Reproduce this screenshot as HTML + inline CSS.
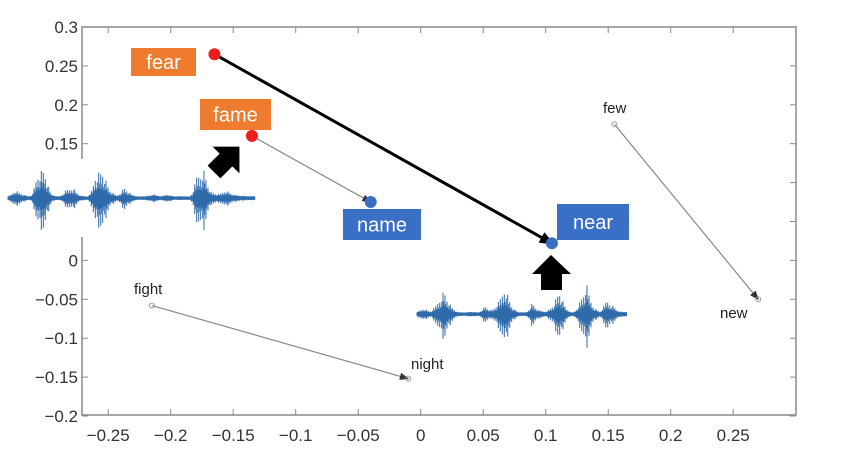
<!DOCTYPE html>
<html><head><meta charset="utf-8"><style>
html,body{margin:0;padding:0;background:#fff;}
svg{display:block;font-family:"Liberation Sans",sans-serif;}
</style></head><body>
<svg id="chart" width="851" height="459" viewBox="0 0 851 459">
<defs>
<marker id="ah" markerWidth="8" markerHeight="6" refX="7" refY="3" orient="auto"><path d="M0,0 L8,3 L0,6 z" fill="#333"/></marker>
<marker id="ahb" markerWidth="5" markerHeight="4" refX="4" refY="2" orient="auto"><path d="M0,0 L5,2 L0,4 z" fill="#000"/></marker>
</defs>
<g id="axes"></g>
<g id="marks"></g>
<g id="overlay"></g>
</svg>
<script>
const xTicks=[-0.25,-0.2,-0.15,-0.1,-0.05,0,0.05,0.1,0.15,0.2,0.25];
const yTicks=[0.3,0.25,0.2,0.15,0.1,0.05,0,-0.05,-0.1,-0.15,-0.2];
const words=["fear","fame","name","near","few","new","fight","night"];
const wx=[-0.165,-0.135,-0.04,0.105,0.155,0.27,-0.215,-0.01];
const wy=[0.265,0.16,0.075,0.022,0.175,-0.05,-0.058,-0.152];
const pairs=[[0,3],[1,2],[4,5],[6,7]];
const envL=[0.15,0.5,0.3,0.1,0.9,1,0.3,0.1,0.5,0.6,0.2,0.1,0.9,1,0.5,0.2,0.6,0.3,0.1,0.15,0.3,0.15,0.3,0.1,0.15,0.1,0.9,1,0.4,0.3,0.5,0.3,0.2,0.15];
const envR=[0.2,0.4,0.2,0.6,0.9,0.5,0.15,0.1,0.2,0.1,0.5,0.3,0.6,1,0.5,0.15,0.1,0.6,0.3,0.2,0.5,0.9,0.4,0.1,0.6,1,0.5,0.2,0.7,0.5,0.2];
const X=v=>420.7+v*1250, Y=v=>260.4-v*778;
const NS="http://www.w3.org/2000/svg";
function mk(t,a,p){const e=document.createElementNS(NS,t);for(const k in a)e.setAttribute(k,a[k]);p.appendChild(e);return e;}
const ax=document.getElementById('axes'),mg=document.getElementById('marks'),ov=document.getElementById('overlay');
const frame=mk('rect',{x:82,y:27,width:714,height:388,fill:'none',stroke:'#8a8a8a','stroke-width':1.5},ax);


xTicks.forEach(v=>{const x=X(v);
 mk('line',{x1:x,x2:x,y1:415,y2:409,stroke:'#8a8a8a'},ax);mk('line',{x1:x,x2:x,y1:27,y2:33,stroke:'#8a8a8a'},ax);
 const t=mk('text',{x:x,y:441,'text-anchor':'middle','font-size':17,fill:'#333'},ax);t.textContent=(v<0?'\u2212':'')+String(Math.abs(v));
 
 });
yTicks.forEach(v=>{const y=Y(v);
 mk('line',{x1:82,x2:88,y1:y,y2:y,stroke:'#8a8a8a'},ax);mk('line',{x1:796,x2:790,y1:y,y2:y,stroke:'#8a8a8a'},ax);
 const t=mk('text',{x:78,y:y+6,'text-anchor':'end','font-size':17,fill:'#333'},ax);t.textContent=(v<0?'\u2212':'')+Math.abs(v);
 
 });
function wave(env,x0,x1,cy,amp,name){
 const g=mk('g',{},mg);
 mk('rect',{x:x0-4,y:cy-amp-4,width:x1-x0+8,height:2*amp+8,fill:'#fff'},g);
 let d='';const n=(x1-x0)*1.5;
 for(let i=0;i<n;i++){const x=x0+i/1.5;const f=i/n*env.length;const k=Math.floor(f);
  const e=env[k]*(1-(f-k))+(env[k+1]??env[k])*(f-k);
  const s=(((i*7919)%97)/97);const a=amp*e*e*(0.25+0.75*s*s)+1.5;d+=`M${x.toFixed(1)},${(cy-a*0.85).toFixed(1)}V${(cy+a).toFixed(1)}`;}
 mk('path',{d:d,stroke:'#2f6aaa','stroke-width':1,fill:'none'},g);
 mk('line',{x1:x0,x2:x1,y1:cy,y2:cy,stroke:'#2f6aaa','stroke-width':2.5},g);
}
pairs.forEach(([a,b])=>{
 const big=a===0;
 const l=mk('line',{x1:X(wx[a]),y1:Y(wy[a]),x2:X(wx[b]),y2:Y(wy[b]),stroke:big?'#000':'#888','stroke-width':big?3:1.2,'marker-end':big?'url(#ahb)':'url(#ah)'},mg);
 
 
});
words.forEach((w,i)=>{
 const big=i<4;const col=i<2?'#ee1c1c':'#3a6fc6';
 const c=mk('circle',{cx:X(wx[i]),cy:Y(wy[i]),r:big?6:2.5,fill:big?col:'none',stroke:big?'none':'#99a',"stroke-width":1},mg);
 
 
});
wave(envL,8,255,198,35,'waveform-left');
wave(envR,417,627,314,36,'waveform-right');
function box(txt,x,y,w,h,col,name){const g=mk('g',{},ov);
 mk('rect',{x:x,y:y,width:w,height:h,fill:col},g);const t=mk('text',{x:x+w/2,y:y+h/2+7,'text-anchor':'middle','font-size':20,fill:'#fff'},g);t.textContent=txt;}
box('fear',131,48,65,28,'#ee7b2e','label-fear');
box('fame',200,99,71,31,'#ee7b2e','label-fame');
box('name',343,209,78,31,'#3a6fc6','label-name');
box('near',557,204,72,36,'#3a6fc6','label-near');
[['few',603,113],['new',720,318],['fight',134,294],['night',411,369]].forEach(([t,x,y])=>{const e=mk('text',{x:x,y:y,'font-size':15,fill:'#222'},ov);e.textContent=t;
 
 });
const up=mk('path',{d:'M551,255 L571,274 L562,274 L562,290 L541,290 L541,274 L532,274 Z',fill:'#000'},ov);


const dg=mk('path',{d:'M0,-19 L19,0 L9,0 L9,17 L-9,17 L-9,0 L-19,0 Z',fill:'#000',transform:'translate(226,160) rotate(45)'},ov);


</script>
</body></html>
